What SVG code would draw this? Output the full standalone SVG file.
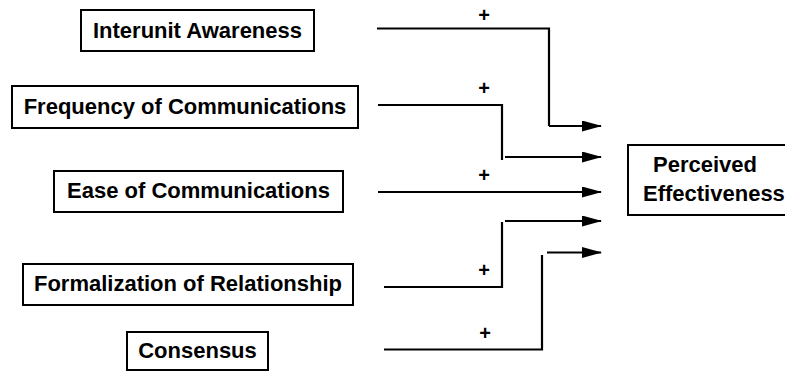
<svg xmlns="http://www.w3.org/2000/svg" width="785" height="372" viewBox="0 0 785 372">
<defs>
<style>
.box{fill:#fff;stroke:#000;stroke-width:2}
.lbl{font-family:"Liberation Sans",Arial,sans-serif;font-weight:bold;font-size:22px;fill:#000}
.ctr{text-anchor:middle}
.ln{fill:none;stroke:#000;stroke-width:2.2}
.plus{font-family:"Liberation Sans",Arial,sans-serif;font-weight:bold;font-size:20px;fill:#000;text-anchor:middle}
</style>
<marker id="ah" viewBox="0 0 20 11" refX="19" refY="5.5" markerWidth="20" markerHeight="11" markerUnits="userSpaceOnUse" orient="auto">
<path d="M0,0 L20,5.5 L0,11 Z" fill="#000"/>
</marker>
</defs>
<rect width="785" height="372" fill="#fff"/>
<g id="n1"><rect class="box" x="81" y="10" width="233" height="41"/><text class="lbl ctr" x="197.5" y="38">Interunit Awareness</text></g>
<g id="n2"><rect class="box" x="12" y="86" width="346" height="42"/><text class="lbl ctr" x="185" y="114">Frequency of Communications</text></g>
<g id="n3"><rect class="box" x="54" y="171" width="289" height="41"/><text class="lbl ctr" x="198.5" y="198">Ease of Communications</text></g>
<g id="n4"><rect class="box" x="23" y="264" width="330" height="41"/><text class="lbl ctr" x="188" y="291">Formalization of Relationship</text></g>
<g id="n5"><rect class="box" x="127" y="332" width="141" height="38"/><text class="lbl ctr" x="197.5" y="358">Consensus</text></g>
<g id="n6"><rect class="box" x="628" y="145" width="160" height="70"/><text class="lbl" x="653" y="172">Perceived</text><text class="lbl" x="643" y="201">Effectiveness</text></g>
<g id="connectors">
<path class="ln" d="M377,28.5 H549 V126"/>
<path class="ln" d="M549,126 H601" marker-end="url(#ah)"/>
<path class="ln" d="M378,105 H502 V160"/>
<path class="ln" d="M505,157 H601" marker-end="url(#ah)"/>
<path class="ln" d="M378,192 H601" marker-end="url(#ah)"/>
<path class="ln" d="M384,287 H502 V222"/>
<path class="ln" d="M505,221 H601" marker-end="url(#ah)"/>
<path class="ln" d="M384,349.5 H542 V255"/>
<path class="ln" d="M547,252.5 H601" marker-end="url(#ah)"/>
<text class="plus" x="484" y="22">+</text>
<text class="plus" x="484" y="95">+</text>
<text class="plus" x="484" y="182">+</text>
<text class="plus" x="484" y="277">+</text>
<text class="plus" x="485" y="340">+</text>
</g>
</svg>
